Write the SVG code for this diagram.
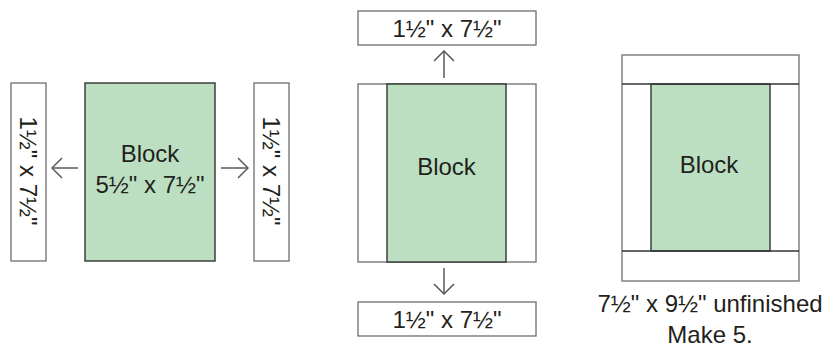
<svg xmlns="http://www.w3.org/2000/svg" width="829" height="347" viewBox="0 0 829 347">
<defs>
<style>
.strip{fill:#ffffff;stroke:#6d6e71;stroke-width:1.3}
.block{fill:#bddfc1;stroke:#333333;stroke-width:1.4}
.dark{stroke:#333333;stroke-width:1.4;fill:none}
.t{font-family:"Liberation Sans",Arial,sans-serif;font-size:24px;fill:#231f20;text-anchor:middle}
.arr{stroke:#58595b;stroke-width:1.5;fill:none}
</style>
<marker id="ah" viewBox="0 0 12 22" refX="11" refY="11" markerWidth="12" markerHeight="22" markerUnits="userSpaceOnUse" orient="auto">
<path d="M1,1 L11,11 L1,21" fill="none" stroke="#58595b" stroke-width="1.5"/>
</marker>
</defs>
<rect width="829" height="347" fill="#ffffff"/>

<g id="left-strip">
<rect class="strip" x="11" y="83" width="35" height="178"/>
<text class="t" transform="translate(28.5,171) rotate(90)" y="8.5">1½" x 7½"</text>
</g>
<g id="block1">
<rect class="block" x="85" y="83" width="130" height="178"/>
<text class="t" x="150" y="162">Block</text>
<text class="t" x="150" y="193">5½" x 7½"</text>
</g>
<g id="right-strip">
<rect class="strip" x="254" y="83" width="35" height="178"/>
<text class="t" transform="translate(271.5,171) rotate(90)" y="8.5">1½" x 7½"</text>
</g>

<g id="top-strip">
<rect class="strip" x="358" y="11" width="178" height="34"/>
<text class="t" x="447" y="37">1½" x 7½"</text>
</g>
<g id="block2">
<rect class="strip" x="358" y="84" width="178" height="178"/>
<rect class="block" x="387" y="84" width="119" height="178"/>
<text class="t" x="446.5" y="175">Block</text>
</g>
<g id="bottom-strip">
<rect class="strip" x="358" y="302" width="178" height="34"/>
<text class="t" x="447" y="328">1½" x 7½"</text>
</g>

<g id="finished">
<rect class="strip" x="622" y="55" width="177" height="226"/>
<rect class="block" x="651" y="84" width="119" height="167"/>
<line class="dark" x1="622" y1="84" x2="799" y2="84"/>
<line class="dark" x1="622" y1="251" x2="799" y2="251"/>
<text class="t" x="709" y="173">Block</text>
<text class="t" x="710" y="312">7½" x 9½" unfinished</text>
<text class="t" x="710" y="343">Make 5.</text>
</g>

<g id="connectors">
<line class="arr" x1="78" y1="168" x2="52" y2="168" marker-end="url(#ah)"/>
<line class="arr" x1="221" y1="168" x2="248" y2="168" marker-end="url(#ah)"/>
<line class="arr" x1="444" y1="78" x2="444" y2="51" marker-end="url(#ah)"/>
<line class="arr" x1="444" y1="268" x2="444" y2="294" marker-end="url(#ah)"/>
</g>
</svg>
